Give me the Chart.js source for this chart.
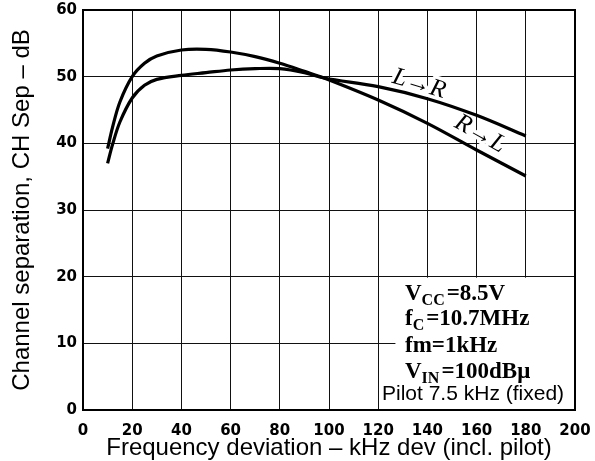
<!DOCTYPE html>
<html><head><meta charset="utf-8">
<script src="https://cdn.jsdelivr.net/npm/chart.js@4.4.1/dist/chart.umd.min.js"></script>
<style>html,body{margin:0;padding:0;background:#fff;} canvas{display:block;}</style>
</head><body>
<canvas id="c" width="595" height="461"></canvas>
<script>
// ---- data ----
const freqKHz = [10, 12, 15, 20, 25, 30, 40, 50, 60, 70, 80, 90, 98, 120, 140, 160, 180];
const sepRtoL = [39.2, 42.4, 46.2, 50.0, 52.0, 53.1, 54.0, 54.1, 53.7, 53.0, 52.0, 50.8, 49.8, 46.5, 43.0, 39.0, 35.1];
const sepLtoR = [37.0, 39.8, 43.2, 46.8, 48.7, 49.6, 50.2, 50.6, 51.0, 51.2, 51.2, 50.6, 49.8, 48.5, 46.7, 44.2, 41.1];
const xTickValues = [0, 20, 40, 60, 80, 100, 120, 140, 160, 180, 200];
const yTickValues = [0, 10, 20, 30, 40, 50, 60];
const seriesNames = ['R→L', 'L→R'];
const xTitle = 'Frequency deviation – kHz dev (incl. pilot)';
const yTitle = 'Channel separation, CH Sep – dB';
const conditionLines = [
  ['V', 'CC', '=8.5V'],
  ['f', 'C', '=10.7MHz'],
  ['fm=1kHz', '', ''],
  ['V', 'IN', '=100dBμ']
];
const pilotNote = 'Pilot 7.5 kHz (fixed)';

const toPts = (xs, ys) => xs.map((x, i) => ({x, y: ys[i]}));

const SERIF = '"Liberation Serif", "DejaVu Serif", serif';
const SANS = '"Liberation Sans", Arial, sans-serif';
const TICKFONT = '"DejaVu Sans", "Liberation Sans", sans-serif';

const annot = {
  id: 'annot',
  beforeDatasetsDraw(chart) {
    const {ctx, scales: {x, y}, chartArea: a} = chart;
    ctx.save();
    const bx = x.getPixelForValue(127), by = y.getPixelForValue(20);
    ctx.fillStyle = '#fff';
    ctx.fillRect(bx, by + 1, a.right - bx, a.bottom - by - 1);
    const labs = [
      {t: seriesNames[1], px: x.getPixelForValue(136.6), py: y.getPixelForValue(48.9), ang: 16.5},
      {t: seriesNames[0], px: x.getPixelForValue(161.4), py: y.getPixelForValue(41.4), ang: 29}
    ];
    labs.forEach(l => {
      ctx.save();
      ctx.translate(l.px, l.py);
      ctx.rotate(l.ang * Math.PI / 180);
      ctx.font = 'italic 25px ' + SERIF;
      ctx.textAlign = 'center';
      ctx.textBaseline = 'middle';
      ctx.lineWidth = 7;
      ctx.strokeStyle = '#fff';
      ctx.lineJoin = 'round';
      ctx.strokeText(l.t, 0, 0);
      ctx.fillStyle = '#000';
      ctx.fillText(l.t, 0, 0);
      ctx.restore();
    });
    ctx.restore();
  },
  afterDraw(chart) {
    const {ctx, chartArea: a} = chart;
    ctx.save();
    ctx.strokeStyle = '#000';
    ctx.lineWidth = 2;
    ctx.strokeRect(a.left, a.top, a.right - a.left, a.bottom - a.top);
    ctx.fillStyle = '#000';
    ctx.textBaseline = 'alphabetic';
    ctx.textAlign = 'left';
    const baselines = [300, 325, 351.5, 378];
    conditionLines.forEach((parts, i) => {
      let cx = 405;
      const by = baselines[i];
      ctx.font = 'bold 23px ' + SERIF;
      ctx.fillText(parts[0], cx, by);
      cx += ctx.measureText(parts[0]).width;
      if (parts[1]) {
        ctx.font = 'bold 16px ' + SERIF;
        ctx.fillText(parts[1], cx, by + 5);
        cx += ctx.measureText(parts[1]).width + 2;
      }
      if (parts[2]) {
        ctx.font = 'bold 23px ' + SERIF;
        ctx.fillText(parts[2], cx, by);
      }
    });
    ctx.font = '21px ' + SANS;
    ctx.fillText(pilotNote, 382, 400);
    ctx.restore();
  }
};

new Chart(document.getElementById('c'), {
  type: 'line',
  data: {
    datasets: [
      {label: seriesNames[0], data: toPts(freqKHz, sepRtoL)},
      {label: seriesNames[1], data: toPts(freqKHz, sepLtoR)}
    ].map(d => Object.assign(d, {
      borderColor: '#000', borderWidth: 3.2, pointRadius: 0,
      fill: false, tension: 0.35, borderCapStyle: 'butt'
    }))
  },
  options: {
    responsive: false,
    animation: false,
    devicePixelRatio: 1,
    layout: {padding: {top: 10, right: 20, left: 0, bottom: 0}},
    plugins: {legend: {display: false}, tooltip: {enabled: false}},
    scales: {
      x: {
        type: 'linear', min: 0, max: 200,
        afterBuildTicks: s => { s.ticks = xTickValues.map(v => ({value: v})); },
        afterFit: s => { s.height = 51; s.paddingLeft = 0; s.paddingRight = 0; },
        grid: {color: '#111', lineWidth: 1, drawTicks: false},
        border: {display: false},
        ticks: {color: '#000', padding: 12, maxRotation: 0, font: {family: TICKFONT, size: 15, weight: 'bold'}},
        title: {display: true, text: xTitle, color: '#000', padding: {top: 0, bottom: -2},
                font: {family: SANS, size: 24}}
      },
      y: {
        min: 0, max: 60,
        afterBuildTicks: s => { s.ticks = yTickValues.map(v => ({value: v})); },
        afterFit: s => { s.width = 83; s.paddingTop = 0; s.paddingBottom = 0; },
        grid: {color: '#111', lineWidth: 1, drawTicks: false},
        border: {display: false},
        ticks: {color: '#000', padding: 6, font: {family: TICKFONT, size: 15, weight: 'bold'}},
        title: {display: true, text: yTitle, color: '#000', padding: {top: 8, bottom: 0},
                font: {family: SANS, size: 24}}
      }
    }
  },
  plugins: [annot]
});
</script>
</body></html>
